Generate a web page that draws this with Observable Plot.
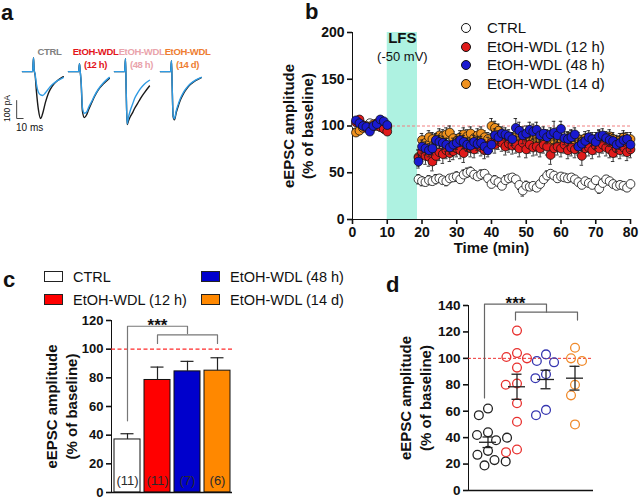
<!DOCTYPE html>
<html><head><meta charset="utf-8">
<script src="https://cdn.jsdelivr.net/npm/d3@7"></script>
<script src="https://cdn.jsdelivr.net/npm/@observablehq/plot@0.6"></script>
<style>
body{margin:0;background:#fff;font-family:"Liberation Sans",Arial,sans-serif;color:#111}
#root{position:relative;width:642px;height:500px;overflow:hidden;background:#fff}
.abs{position:absolute}
.letter{position:absolute;font-weight:bold;font-size:22px;line-height:22px}
.lg{position:absolute;font-size:15px;line-height:18px;white-space:nowrap}
.lg .dot{position:absolute;width:8px;height:8px;border-radius:50%;border:1px solid #111}
.lg .box{position:absolute;width:17px;height:9px;border:1px solid #222}
</style></head><body><div id="root"></div>
<script>
// ---------- Panel a: example EPSC traces ----------
const traceGroups = ["CTRL", "EtOH-WDL (12 h)", "EtOH-WDL (48 h)", "EtOH-WDL (14 d)"];
const traceLabels = ["CTRL", "EtOH-WDL\n(12 h)", "EtOH-WDL\n(48 h)", "EtOH-WDL\n(14 d)"];
const traceLabelColors = ["#808080", "#e3151b", "#e9a3ab", "#ee7d31"];
const traceTimeMs = [-17, -1.5, 0, 1, 2.5, 4.5, 7.5, 11, 14, 18.5, 23, 29, 37, 46];
const traceBaselinePA = [
  [0, 0, 78, 10, -20, -110, -210, -261, -235, -170, -120, -80, -50, -28],
  [0, 0, 45, 5, -60, -220, -256, -240, -212, -175, -140, -102, -68, -38],
  [0, 0, 72, -100, -295, -275, -250, -228, -205, -178, -150, -118, -80, null],
  [0, 0, 61, -80, -250, -268, -225, -185, -155, -122, -97, -72, -50, -33]
];
const traceAfterPA = [
  [0, 0, 78, 10, -15, -70, -115, -130, -133, -118, -96, -72, -50, -33],
  [0, 0, 45, 5, -55, -200, -232, -225, -200, -168, -135, -98, -62, -32],
  [0, 0, 72, -95, -290, -255, -215, -180, -150, -120, -95, -70, -48, null],
  [0, 0, 61, -80, -245, -262, -215, -175, -147, -115, -92, -68, -47, -32]
];
const scaleBarMs = 10, scaleBarPA = 100;

// ---------- Panel b: time course ----------
const timeMin = [1,2,3,4,5,6,7,8,9,10,
  19,20,21,22,23,24,25,26,27,28,29,30,31,32,33,34,35,36,37,38,39,40,41,42,43,44,45,46,47,48,49,50,
  51,52,53,54,55,56,57,58,59,60,61,62,63,64,65,66,67,68,69,70,71,72,73,74,75,76,77,78,79,80];
const ctrlAmp = [101,98,100,99,103,100,101,99,102,99,
  43,41,40,42,41,43,44,42,41,44, 45,46,43,48,50,51,48,46,48,49, 44,38,42,40,36,42,44,45,43,37,
  31,36,35,36,34,38,43,47,49,47, 44,46,45,44,45,43,40,37,41,39, 37,42,33,39,43,41,38,36,37,36, 34,38];
const wdl12Amp = [104,107,101,98,96,100,103,99,97,94,
  66,72,68,67,62,68,72,70,74,71, 73,76,74,71,78,76,75,80,77,74, 79,82,80,84,82,78,81,79,80,76,
  82,75,80,77,78,76,80,78,69,76, 78,76,80,74,77,75,78,68,76,77, 74,79,76,80,77,75,71,76,74,77, 72,75];
const wdl48Amp = [106,103,100,99,94,100,102,107,105,101,
  62,78,76,74,76,85,83,82,80,77, 80,82,85,83,80,79,83,81,82,78, 74,80,90,88,92,91,89,86,98,95,
  90,92,96,94,96,90,92,88,91,93, 90,97,87,86,88,91,78,81,84,88, 86,83,89,90,87,85,84,80,82,85, 86,80];
const wdl14Amp = [93,95,98,100,99,102,100,101,97,99,
  67,85,82,88,86,84,90,89,91,93, 87,84,88,91,89,92,87,90,92,88, 86,100,98,95,88,85,82,86,88,84,
  82,87,83,85,88,86,84,89,82,85, 88,86,84,87,89,85,86,83,87,84, 82,86,88,84,85,89,86,83,85,88, 84,86];
const ctrlSem = [2,2,2,2,2,2,2,2,2,2,
  5,5,4,5,4,5,4,4,5,4, 4,5,4,5,5,5,4,4,5,4, 4,4,5,4,4,5,4,4,4,5,
  6,5,4,4,4,4,4,5,4,4, 4,4,4,4,4,4,4,4,4,4, 4,4,5,4,4,4,4,4,4,4, 4,4];
const wdl12Sem = [3,3,3,3,3,3,3,3,3,3,
  9,10,9,10,10,9,9,10,9,9, 9,9,9,10,9,9,9,9,9,9, 9,9,9,9,9,9,9,9,9,9,
  9,9,9,9,9,9,9,9,10,9, 9,9,9,9,9,9,9,10,9,9, 9,9,9,9,9,9,9,9,9,9, 9,9];
const wdl48Sem = [3,3,3,3,3,3,3,3,3,3,
  7,7,7,7,7,7,7,7,7,7, 7,7,7,7,7,7,7,7,7,7, 7,7,7,7,7,7,7,7,10,9,
  9,8,8,8,8,7,7,7,7,12, 8,8,7,7,7,7,7,7,7,7, 7,7,7,7,7,7,7,7,7,7, 7,7];
const wdl14Sem = [3,3,3,3,3,3,3,3,3,3,
  7,7,7,7,7,7,7,7,7,7, 7,7,7,7,7,7,7,7,7,7, 7,8,7,7,7,7,7,7,7,7,
  7,7,7,7,7,7,7,7,7,7, 7,7,7,7,7,7,7,7,7,7, 7,7,7,7,7,7,7,7,7,7, 7,7];
const seriesNames = ["CTRL", "EtOH-WDL (12 h)", "EtOH-WDL (48 h)", "EtOH-WDL (14 d)"];
const seriesFill = ["#ffffff", "#e01b1b", "#1a1ad0", "#f0921e"];
const lfsStart = 10, lfsEnd = 18.7;
const xTicksB = [0,10,20,30,40,50,60,70,80];
const yTicksB = [0,50,100,150,200];

// ---------- Panel c: bar chart ----------
const barGroups = ["CTRL", "EtOH-WDL (12 h)", "EtOH-WDL (48 h)", "EtOH-WDL (14 d)"];
const barMeans = [37, 78.5, 84.5, 85];
const barSems = [4, 9, 7, 9];
const barCounts = ["(11)", "(11)", "(7)", "(6)"];
const barFill = ["#ffffff", "#ff0000", "#0000cc", "#ff8800"];
const yTicksC = [0,20,40,60,80,100,120];

// ---------- Panel d: individual cells ----------
const ctrlCells = [62, 57, 44, 42, 38, 40, 30, 27, 23, 22, 19];
const wdl12Cells = [121, 104, 101, 100, 93, 81, 80, 66, 52, 31, 29];
const wdl48Cells = [103, 98, 97, 88, 85, 61, 57];
const wdl14Cells = [108, 100, 98, 80, 72, 50];
const cellStroke = ["#222222", "#e8302e", "#3636b0", "#f08a2a"];
const cellMeans = [36.5, 78.5, 84, 85];
const cellSems = [4, 9.5, 7, 9];
const yTicksD = [0,20,40,60,80,100,120,140];

const FONT = "Liberation Sans, Arial, sans-serif";
const root = document.getElementById("root");
function place(node, left, top, w, h) {
  const d = document.createElement("div");
  d.className = "abs";
  d.style.left = left + "px"; d.style.top = top + "px";
  d.style.width = w + "px"; d.style.height = h + "px";
  d.appendChild(node); root.appendChild(d); return d;
}
function thickenAxes(svg) {
  svg.querySelectorAll("g[aria-label]").forEach(g => {
    const l = g.getAttribute("aria-label");
    if (/axis (tick|line)$/.test(l) || /axis$/.test(l)) g.setAttribute("stroke-width", "1.6");
  });
  return svg;
}
const baseStyle = {fontFamily: FONT, fontSize: "13px", fontWeight: "bold", background: "transparent", color: "#111", overflow: "visible"};
const yLabel = (txt, dx) => Plot.text([txt], {frameAnchor: "left", textAnchor: "middle", lineAnchor: "middle", rotate: -90, dx, text: d => d, fontSize: 15, fontWeight: "bold", fill: "#111"});

// ===== Panel a =====
const traceRows = [];
traceGroups.forEach((g, k) => traceTimeMs.forEach((t, i) => traceRows.push({g, t, base: traceBaselinePA[k][i], after: traceAfterPA[k][i]})));
const scaleBar = [
  {g: "CTRL", t: -26, i: -261 + scaleBarPA},
  {g: "CTRL", t: -26, i: -261},
  {g: "CTRL", t: -26 + scaleBarMs, i: -261}
];
const plotA = Plot.plot({
  width: 240, height: 95, marginLeft: 22, marginRight: 34, marginTop: 13, marginBottom: 12,
  fx: {domain: traceGroups, paddingInner: 0, paddingOuter: 0, axis: null},
  x: {domain: [-17, 54], axis: null},
  y: {domain: [-300, 90], axis: null},
  style: baseStyle,
  marks: [
    Plot.line(traceRows, {fx: "g", x: "t", y: "base", stroke: "#1a1a1a", strokeWidth: 1.4, curve: "monotone-x"}),
    Plot.line(traceRows, {fx: "g", x: "t", y: "after", stroke: "#2f9be3", strokeWidth: 1.4, curve: "monotone-x"}),
    Plot.text(traceGroups, {fx: d => d, frameAnchor: "top", lineAnchor: "top", dy: -9, dx: 4,
      text: (d, i) => traceLabels[i], fill: (d, i) => traceLabelColors[i],
      fontSize: 9.5, fontWeight: "bold", lineHeight: 1.3, className: "tlabel"}),
    Plot.line(scaleBar, {fx: "g", x: "t", y: "i", stroke: "#444", strokeWidth: 1}),
    Plot.text(["10 ms"], {fx: () => "CTRL", x: () => -6, y: () => -311, text: d => d, fontSize: 10, fontWeight: "normal", fill: "#111"}),
    Plot.text(["100 pA"], {fx: () => "CTRL", x: () => -40, y: () => -205, text: d => d, fontSize: 8.5, fontWeight: "normal", rotate: -90, fill: "#111"})
  ]
});
plotA.querySelectorAll(".tlabel text").forEach(t => { t.style.letterSpacing = "-0.35px"; });
place(plotA, 0, 42, 240, 95);

// ===== Panel b =====
const ampArrays = [ctrlAmp, wdl12Amp, wdl48Amp, wdl14Amp];
const semArrays = [ctrlSem, wdl12Sem, wdl48Sem, wdl14Sem];
const tcRows = ampArrays.map((arr, s) => arr.map((v, i) => ({s, t: timeMin[i], v, e: semArrays[s][i]})));
const drawOrder = [0, 3, 1, 2];
const seriesMarks = [];
drawOrder.forEach(s => {
  const rows = tcRows[s];
  seriesMarks.push(
    Plot.ruleX(rows, {x: "t", y1: d => d.v - d.e, y2: d => d.v + d.e, stroke: "#222", strokeWidth: 0.9}),
    Plot.ruleY(rows, {y: d => d.v + d.e, x1: d => d.t - 0.5, x2: d => d.t + 0.5, stroke: "#222", strokeWidth: 0.9}),
    Plot.ruleY(rows, {y: d => d.v - d.e, x1: d => d.t - 0.5, x2: d => d.t + 0.5, stroke: "#222", strokeWidth: 0.9}),
    Plot.dot(rows, {x: "t", y: "v", r: 4.4, fill: seriesFill[s], stroke: "#111", strokeWidth: 0.8})
  );
});
const plotB = Plot.plot({
  width: 362, height: 255, marginLeft: 72, marginRight: 12, marginTop: 32, marginBottom: 36,
  x: {domain: [0, 80], ticks: xTicksB, tickSize: 5, tickPadding: 3, line: true, label: null},
  y: {domain: [0, 200], ticks: yTicksB, tickSize: 5, tickPadding: 3, line: true, label: null},
  style: {...baseStyle, fontSize: "14px"},
  marks: [
    Plot.rect([{x1: lfsStart, x2: lfsEnd}], {x1: "x1", x2: "x2", y1: () => 0, y2: () => 200, fill: "#aef2e1"}),
    Plot.text(["LFS"], {x: () => (lfsStart + lfsEnd) / 2, y: () => 200, text: d => d, lineAnchor: "top", dy: 0, fontSize: 15, fontWeight: "bold", fill: "#111"}),
    Plot.text(["(-50 mV)"], {x: () => (lfsStart + lfsEnd) / 2, y: () => 200, text: d => d, lineAnchor: "top", dy: 19, fontSize: 13, fontWeight: "normal", fill: "#111"}),
    Plot.ruleY([100], {stroke: "#f08080", strokeWidth: 1, strokeDasharray: "3,2"}),
    ...seriesMarks,
    yLabel("eEPSC amplitude", -63),
    yLabel("(% of baseline)", -44),
    Plot.text(["Time (min)"], {frameAnchor: "bottom", lineAnchor: "top", dy: 23, text: d => d, fontSize: 15, fontWeight: "bold", fill: "#111"})
  ]
});
thickenAxes(plotB);
place(plotB, 280, 0, 362, 255);

// ===== Panel c =====
const barRows = barGroups.map((g, i) => ({g, mean: barMeans[i], sem: barSems[i], n: barCounts[i], fill: barFill[i]}));
const bracketC1 = [{g: barGroups[0], v: 50}, {g: barGroups[0], v: 116}, {g: barGroups[2], v: 116}, {g: barGroups[2], v: 111}];
const bracketC2 = [{g: barGroups[1], v: 104}, {g: barGroups[1], v: 110}, {g: barGroups[3], v: 110}, {g: barGroups[3], v: 104}];
const plotC = Plot.plot({
  width: 250, height: 200, marginLeft: 111, marginRight: 18, marginTop: 20, marginBottom: 8,
  x: {domain: barGroups, paddingInner: 0.14, paddingOuter: 0.06, axis: null},
  y: {domain: [0, 120], ticks: yTicksC, tickSize: 5, tickPadding: 3, line: true, label: null},
  style: {...baseStyle, fontSize: "13px"},
  marks: [
    Plot.ruleY([100], {stroke: "#ff2a2a", strokeWidth: 1.2, strokeDasharray: "4,2.5"}),
    Plot.barY(barRows, {x: "g", y: "mean", fill: "fill", stroke: "#111", strokeWidth: 1}),
    Plot.ruleX(barRows, {x: "g", y1: "mean", y2: d => d.mean + d.sem, stroke: "#222", strokeWidth: 1.2}),
    Plot.tickY(barRows, {x: "g", y: d => d.mean + d.sem, insetLeft: 6.5, insetRight: 6.5, stroke: "#222", strokeWidth: 1.2}),
    Plot.text(barRows, {x: "g", y: () => 0, text: "n", dy: -12, fontSize: 13, fontWeight: "normal", fill: "#2a2a2a"}),
    Plot.line(bracketC1, {x: "g", y: "v", stroke: "#777", strokeWidth: 1.2}),
    Plot.line(bracketC2, {x: "g", y: "v", stroke: "#777", strokeWidth: 1.2}),
    Plot.text(["***"], {x: () => barGroups[1], y: () => 116, text: d => d, lineAnchor: "bottom", dy: 5, fontSize: 17, fontWeight: "bold", fill: "#111"}),
    Plot.ruleY([0], {stroke: "#111", strokeWidth: 1.6}),
    yLabel("eEPSC amplitude", -59),
    yLabel("(% of baseline)", -39)
  ]
});
thickenAxes(plotC);
place(plotC, 0, 300, 250, 200);

// ===== Panel d =====
const cellArrays = [ctrlCells, wdl12Cells, wdl48Cells, wdl14Cells];
const summaryRows = barGroups.map((g, i) => ({g, mean: cellMeans[i], sem: cellSems[i]}));
const bracketD1 = [{g: barGroups[0], v: 70}, {g: barGroups[0], v: 141}, {g: barGroups[2], v: 141}, {g: barGroups[2], v: 135}];
const bracketD2 = [{g: barGroups[1], v: 129}, {g: barGroups[1], v: 135}, {g: barGroups[3], v: 135}, {g: barGroups[3], v: 129}];
const dDims = {width: 282, height: 210, marginLeft: 108, marginRight: 49, marginTop: 15, marginBottom: 10};
const plotD = Plot.plot({
  ...dDims,
  x: {domain: barGroups, paddingInner: 0, paddingOuter: 0.15, axis: null},
  y: {domain: [0, 140], ticks: yTicksD, tickSize: 5, tickPadding: 3, line: true, label: null},
  style: {...baseStyle, fontSize: "13.5px"},
  marks: [
    Plot.ruleY([100], {stroke: "#ee3333", strokeWidth: 1, strokeDasharray: "3,2"}),
    Plot.ruleY([0], {stroke: "#111", strokeWidth: 1.6}),
    Plot.line(bracketD1, {x: "g", y: "v", stroke: "#666", strokeWidth: 1.2}),
    Plot.line(bracketD2, {x: "g", y: "v", stroke: "#666", strokeWidth: 1.2}),
    Plot.text(["***"], {x: () => barGroups[1], y: () => 141, text: d => d, lineAnchor: "bottom", dy: 5, fontSize: 17, fontWeight: "bold", fill: "#111"}),
    yLabel("eEPSC amplitude", -62),
    yLabel("(% of baseline)", -42)
  ]
});
thickenAxes(plotD);
place(plotD, 360, 290, 282, 210);

const dotMarks = [];
cellArrays.forEach((arr, k) => {
  const rows = arr.map(v => ({g: barGroups[k], v}));
  dotMarks.push(Plot.dot(rows, Plot.dodgeX({anchor: "middle", padding: 2.5}, {fx: "g", y: "v", r: 4.4, stroke: cellStroke[k], fill: "none", strokeWidth: 1.3})));
});
const plotD2 = Plot.plot({
  ...dDims,
  fx: {domain: barGroups, paddingInner: 0, paddingOuter: 0.15, axis: null},
  y: {domain: [0, 140], axis: null},
  style: baseStyle,
  marks: dotMarks
});
place(plotD2, 360, 290, 282, 210);

const plotD3 = Plot.plot({
  ...dDims,
  x: {domain: barGroups, paddingInner: 0, paddingOuter: 0.15, axis: null},
  y: {domain: [0, 140], axis: null},
  style: baseStyle,
  marks: [
    Plot.ruleX(summaryRows, {x: "g", y1: d => d.mean - d.sem, y2: d => d.mean + d.sem, stroke: "#222", strokeWidth: 1.3}),
    Plot.tickY(summaryRows, {x: "g", y: "mean", insetLeft: 6, insetRight: 6, stroke: "#222", strokeWidth: 1.3}),
    Plot.tickY(summaryRows, {x: "g", y: d => d.mean + d.sem, insetLeft: 9.5, insetRight: 9.5, stroke: "#222", strokeWidth: 1.3}),
    Plot.tickY(summaryRows, {x: "g", y: d => d.mean - d.sem, insetLeft: 9.5, insetRight: 9.5, stroke: "#222", strokeWidth: 1.3})
  ]
});
place(plotD3, 360, 290, 282, 210);

// ===== Legends (HTML) =====
function legendB(i, top) {
  const row = document.createElement("div");
  row.className = "lg"; row.style.left = "460px"; row.style.top = (top - 9) + "px";
  const dot = document.createElement("span"); dot.className = "dot";
  dot.style.left = "1px"; dot.style.top = "4px"; dot.style.background = seriesFill[i];
  const txt = document.createElement("span"); txt.textContent = seriesNames[i];
  txt.style.position = "absolute"; txt.style.left = "27px"; txt.style.top = "0px";
  row.appendChild(dot); row.appendChild(txt); root.appendChild(row);
}
[28, 46.5, 65, 83.5].forEach((y, i) => legendB(i, y));

function legendC(i, left, top) {
  const row = document.createElement("div");
  row.className = "lg"; row.style.left = left + "px"; row.style.top = (top - 9) + "px";
  row.style.fontSize = "14.5px";
  const box = document.createElement("span"); box.className = "box";
  box.style.left = "0px"; box.style.top = "3px"; box.style.background = barFill[i];
  const txt = document.createElement("span"); txt.textContent = barGroups[i];
  txt.style.position = "absolute"; txt.style.left = "29px"; txt.style.top = "0px";
  row.appendChild(box); row.appendChild(txt); root.appendChild(row);
}
legendC(0, 44, 277); legendC(1, 44, 300); legendC(2, 201, 277); legendC(3, 201, 300);

// ===== Panel letters =====
[["a", 1, 2], ["b", 305, 1], ["c", 3, 269], ["d", 386, 274]].forEach(([t, x, y]) => {
  const d = document.createElement("div"); d.className = "letter";
  d.style.left = x + "px"; d.style.top = y + "px"; d.textContent = t; root.appendChild(d);
});
</script></body></html>
